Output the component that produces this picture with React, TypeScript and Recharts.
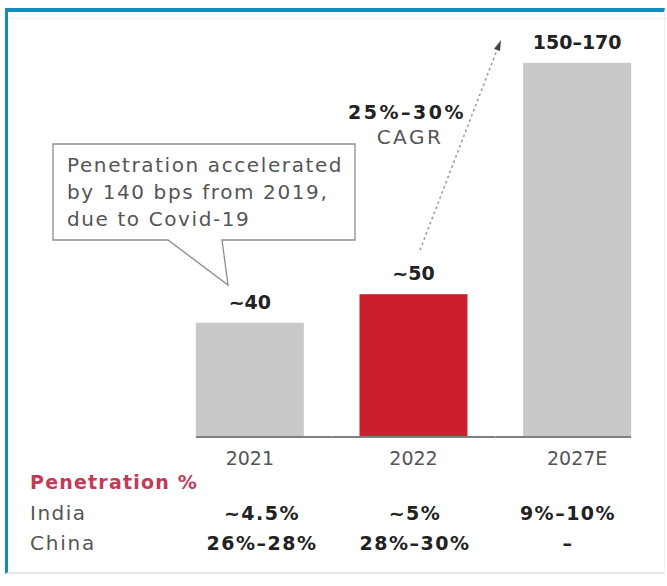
import { Bar, BarChart, Cell, LabelList, XAxis, YAxis } from "recharts";

// chart data
const years = ["2021", "2022", "2027E"];
const marketSize = [40, 50, 131]; // drawn bar height (not to scale for 2027E)
const sizeLabels = ["~40", "~50", "150–170"];
const barColors = ["#c9c9c9", "#cc1f2e", "#c9c9c9"];

// penetration table
const indiaPenetration = ["~4.5%", "~5%", "9%–10%"];
const chinaPenetration = ["26%–28%", "28%–30%", "–"];

const calloutLines = [
  "Penetration accelerated",
  "by 140 bps from 2019,",
  "due to Covid-19",
];
const cagrLabel = "25%–30%";

const FONT = "'DejaVu Sans', sans-serif";
const GAP = 0.17;

const data = years.map((year, i) => ({
  year,
  value: marketSize[i],
  label: sizeLabels[i],
}));

const BarWithBase = (props: any) => {
  const { x, y, width, height, index } = props;
  const halfGap = (width * GAP) / (1 - 2 * GAP);
  const x1 = index === 0 ? x : x - halfGap;
  const x2 = index === years.length - 1 ? x + width : x + width + halfGap;
  return (
    <g>
      <rect x={x} y={y} width={width} height={height} fill={barColors[index]} />
      <line
        x1={x1}
        x2={x2}
        y1={y + height}
        y2={y + height}
        stroke="#808080"
        strokeWidth={2}
      />
    </g>
  );
};

const colX = [262, 415, 568];

export default function App() {
  return (
    <div
      style={{
        position: "absolute",
        left: 0,
        top: 0,
        width: 667,
        height: 586,
        background: "#fff",
        overflow: "hidden",
        fontFamily: FONT,
      }}
    >
      <div
        style={{
          position: "absolute",
          left: 5,
          top: 8,
          width: 660,
          height: 566,
          borderTop: "4px solid #158abd",
          borderLeft: "3px solid #158abd",
          borderBottom: "2px solid #e6e6e6",
          borderRight: "1px solid #f0f0f0",
          boxSizing: "border-box",
        }}
      />
      <div
        style={{
          position: "absolute",
          left: 8,
          top: 18,
          width: 659,
          height: 1,
          background: "#f0f0f0",
        }}
      />
      <div style={{ position: "absolute", left: 0, top: 0 }}>
        <BarChart
          width={667}
          height={480}
          data={data}
          barCategoryGap={`${GAP * 100}%`}
          margin={{ top: 0, right: 8, left: 168, bottom: 3 }}
        >
          <YAxis hide domain={[0, 153]} />
          <XAxis
            dataKey="year"
            height={40}
            axisLine={false}
            tickLine={false}
            tickMargin={9}
            tick={{ fill: "#555", fontSize: 19, fontFamily: FONT }}
          />
          <Bar dataKey="value" shape={<BarWithBase />} isAnimationActive={false}>
            {data.map((d, i) => (
              <Cell key={d.year} fill={barColors[i]} />
            ))}
            <LabelList
              dataKey="label"
              position="top"
              offset={14}
              fill="#222"
              fontSize={19}
              fontWeight={700}
              fontFamily={FONT}
            />
          </Bar>
        </BarChart>
      </div>
      <svg
        width={667}
        height={586}
        style={{ position: "absolute", left: 0, top: 0, pointerEvents: "none" }}
        fontFamily={FONT}
      >
        {/* callout box */}
        <path
          d="M53,144 H355 V240 H222 L228,285 L168,240 H53 Z"
          fill="#fff"
          stroke="#8c8c8c"
          strokeWidth={1.3}
        />
        {calloutLines.map((t, i) => (
          <text
            key={t}
            x={67}
            y={165 + i * 27}
            fontSize={20}
            letterSpacing={1.6}
            fill="#555"
            dominantBaseline="central"
          >
            {t}
          </text>
        ))}
        {/* CAGR arrow */}
        <line
          x1={420}
          y1={250}
          x2={497}
          y2={50}
          stroke="#9a9a9a"
          strokeWidth={1.6}
          strokeDasharray="2.5 3"
        />
        <polygon points="501,40 494,49 500,51" fill="#444" />
        <text
          x={407}
          y={112}
          fontSize={19}
          fontWeight={700}
          letterSpacing={2.5}
          fill="#222"
          textAnchor="middle"
          dominantBaseline="central"
        >
          {cagrLabel}
        </text>
        <text
          x={410}
          y={137}
          fontSize={20}
          letterSpacing={2.5}
          fill="#555"
          textAnchor="middle"
          dominantBaseline="central"
        >
          CAGR
        </text>
        {/* penetration table */}
        <text
          x={30}
          y={482}
          fontSize={19}
          fontWeight={700}
          letterSpacing={1.2}
          fill="#c23a57"
          dominantBaseline="central"
        >
          Penetration %
        </text>
        <text
          x={30}
          y={513}
          fontSize={20}
          letterSpacing={1.5}
          fill="#555"
          dominantBaseline="central"
        >
          India
        </text>
        <text
          x={30}
          y={543}
          fontSize={20}
          letterSpacing={1.8}
          fill="#555"
          dominantBaseline="central"
        >
          China
        </text>
        {indiaPenetration.map((t, i) => (
          <text
            key={"in" + i}
            x={colX[i]}
            y={513}
            fontSize={19}
            fontWeight={700}
            letterSpacing={1.5}
            fill="#222"
            textAnchor="middle"
            dominantBaseline="central"
          >
            {t}
          </text>
        ))}
        {chinaPenetration.map((t, i) => (
          <text
            key={"cn" + i}
            x={colX[i]}
            y={543}
            fontSize={19}
            fontWeight={700}
            letterSpacing={1.5}
            fill="#222"
            textAnchor="middle"
            dominantBaseline="central"
          >
            {t}
          </text>
        ))}
      </svg>
    </div>
  );
}
